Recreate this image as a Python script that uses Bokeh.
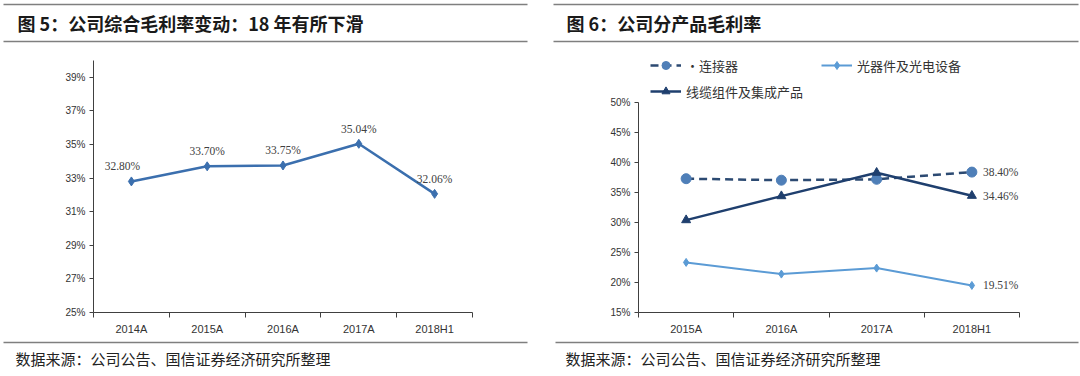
from bokeh.plotting import figure
from bokeh.models import Range1d, FixedTicker, Legend, LegendItem, PrintfTickFormatter
from bokeh.layouts import column, row
from bokeh.core.properties import value
from bokeh.embed import file_html
from bokeh.resources import INLINE

# ---------------- data ----------------
titles = ["图 5：公司综合毛利率变动：18 年有所下滑", "图 6：公司分产品毛利率"]
source_note = "数据来源：公司公告、国信证券经济研究所整理"

cats1 = ["2014A", "2015A", "2016A", "2017A", "2018H1"]
gm_total = [32.80, 33.70, 33.75, 35.04, 32.06]
y1_ticks = [25, 27, 29, 31, 33, 35, 37, 39]

cats2 = ["2015A", "2016A", "2017A", "2018H1"]
connector = [37.3, 37.05, 37.2, 38.40]
optical = [23.35, 21.4, 22.4, 19.51]
cable = [30.4, 34.4, 38.3, 34.46]
series_names = ["·连接器", "光器件及光电设备", "线缆组件及集成产品"]
y2_ticks = [15, 20, 25, 30, 35, 40, 45, 50]

# ---------------- styles ----------------
CJK = "Noto Sans CJK SC"
NUMF = "Liberation Serif"
AXF = "Liberation Sans"
AXC = "#404040"
RULE = "#7f7f7f"
label_dx1 = [-9, 0, 0, 0, 0]


def deco_fig(w, h):
    p = figure(width=w, height=h, x_range=Range1d(0, w), y_range=Range1d(h, 0),
               output_backend="svg", toolbar_location=None, tools="",
               min_border=0, min_border_left=0, min_border_right=0,
               min_border_top=0, min_border_bottom=0)
    p.axis.visible = False
    p.grid.visible = False
    p.outline_line_color = None
    return p


def chart(w, h, left, right, top, bottom, cats, y0, y1, ybound, yticks):
    n = len(cats)
    p = figure(width=w, height=h, min_border_left=left, min_border_right=right,
               min_border_top=top, min_border_bottom=bottom,
               x_range=Range1d(-0.5, n - 0.5), y_range=Range1d(y0, y1),
               output_backend="svg", toolbar_location=None, tools="")
    p.outline_line_color = None
    p.grid.visible = False
    xa = p.xaxis[0]
    xa.ticker = FixedTicker(ticks=list(range(n)), minor_ticks=[i - 0.5 for i in range(n + 1)])
    xa.major_label_overrides = {i: c for i, c in enumerate(cats)}
    xa.major_tick_line_color = None
    xa.major_tick_out = 0
    xa.major_tick_in = 0
    xa.minor_tick_out = 5
    xa.minor_tick_in = 0
    xa.minor_tick_line_color = AXC
    xa.axis_line_color = AXC
    xa.major_label_text_font = AXF
    xa.major_label_text_font_size = "11px"
    xa.major_label_text_color = "#333333"
    xa.major_label_standoff = 5
    ya = p.yaxis[0]
    ya.ticker = FixedTicker(ticks=yticks)
    ya.bounds = (y0, ybound)
    ya.formatter = PrintfTickFormatter(format="%d%%")
    ya.major_tick_out = 4
    ya.major_tick_in = 0
    ya.major_tick_line_color = AXC
    ya.minor_tick_line_color = None
    ya.axis_line_color = AXC
    ya.major_label_text_font = AXF
    ya.major_label_text_font_size = "10px"
    ya.major_label_text_color = "#333333"
    ya.major_label_standoff = 4
    return p


# ---------------- header ----------------
head = deco_fig(1080, 45)
head.segment(x0=[3, 553, 3, 553], y0=[4, 4, 41, 41], x1=[527, 1078, 527, 1078], y1=[4, 4, 41, 41],
             line_color=RULE, line_width=1.5)
head.text(x=[17, 566], y=[22, 22], text=titles, text_font=value(CJK), text_font_style="bold",
          text_font_size="18px", text_color="#1a1a1a", text_align="left", text_baseline="middle")

# ---------------- left chart ----------------
p1 = chart(540, 295, 93, 68, 0, 28, cats1, 25, 40.89, 40, y1_ticks)
x1 = list(range(len(cats1)))
c1 = "#3b6fae"
p1.line(x1, gm_total, line_color=c1, line_width=2.5)
p1.scatter(x1, gm_total, marker="diamond", size=9, fill_color=c1, line_color=c1)
p1.text(x=x1, y=gm_total, text=[f"{v:.2f}%" for v in gm_total], x_offset=label_dx1, y_offset=-15,
        text_font=value(NUMF), text_font_size="11.5px", text_color="#404040",
        text_align="center", text_baseline="middle")

# ---------------- right chart ----------------
p2 = chart(540, 295, 98, 61, 0, 28, cats2, 15, 59.5, 50, y2_ticks)
x2 = list(range(len(cats2)))
cc, co, cb = "#2c4a72", "#5b9bd5", "#1f3f6e"
l_con = p2.line(x2, connector, line_color=cc, line_width=2.5, line_dash="8 5")
s_con = p2.scatter(x2, connector, marker="circle", size=10, fill_color="#4f7fb8", line_color="#4f7fb8")
l_opt = p2.line(x2, optical, line_color=co, line_width=2)
s_opt = p2.scatter(x2, optical, marker="diamond", size=8, fill_color=co, line_color=co)
l_cab = p2.line(x2, cable, line_color=cb, line_width=2.5)
s_cab = p2.scatter(x2, cable, marker="triangle", size=9, fill_color=cb, line_color=cb)

last = x2[-1]
end_vals = [connector[-1], cable[-1], optical[-1]]
p2.text(x=[last] * 3, y=end_vals, text=[f"{v:.2f}%" for v in end_vals], x_offset=11,
        text_font=value(NUMF), text_font_size="11.5px", text_color="#404040",
        text_align="left", text_baseline="middle")

legend = Legend(items=[LegendItem(label=series_names[0], renderers=[l_con, s_con]),
                       LegendItem(label=series_names[1], renderers=[l_opt, s_opt]),
                       LegendItem(label=series_names[2], renderers=[l_cab, s_cab])],
                location=(12, 211), orientation="horizontal", ncols=2,
                glyph_width=31, glyph_height=20, label_height=20, label_standoff=5,
                label_width=129, spacing=6, padding=2, margin=0,
                border_line_color=None, background_fill_alpha=0,
                label_text_font=CJK, label_text_font_size="13px", label_text_color="#333333")
p2.add_layout(legend, "center")

# ---------------- footer ----------------
foot = deco_fig(1080, 36)
foot.segment(x0=[3, 555], y0=[2, 2], x1=[527, 1078], y1=[2, 2], line_color=RULE, line_width=1.5)
foot.text(x=[15, 565], y=[18, 18], text=[source_note, source_note], text_font=value(CJK),
          text_font_size="15px", text_color="#222222", text_align="left", text_baseline="middle")

layout = column(head, row(p1, p2, spacing=0), foot, spacing=0)

open("out.html", "w").write(file_html(layout, INLINE))
